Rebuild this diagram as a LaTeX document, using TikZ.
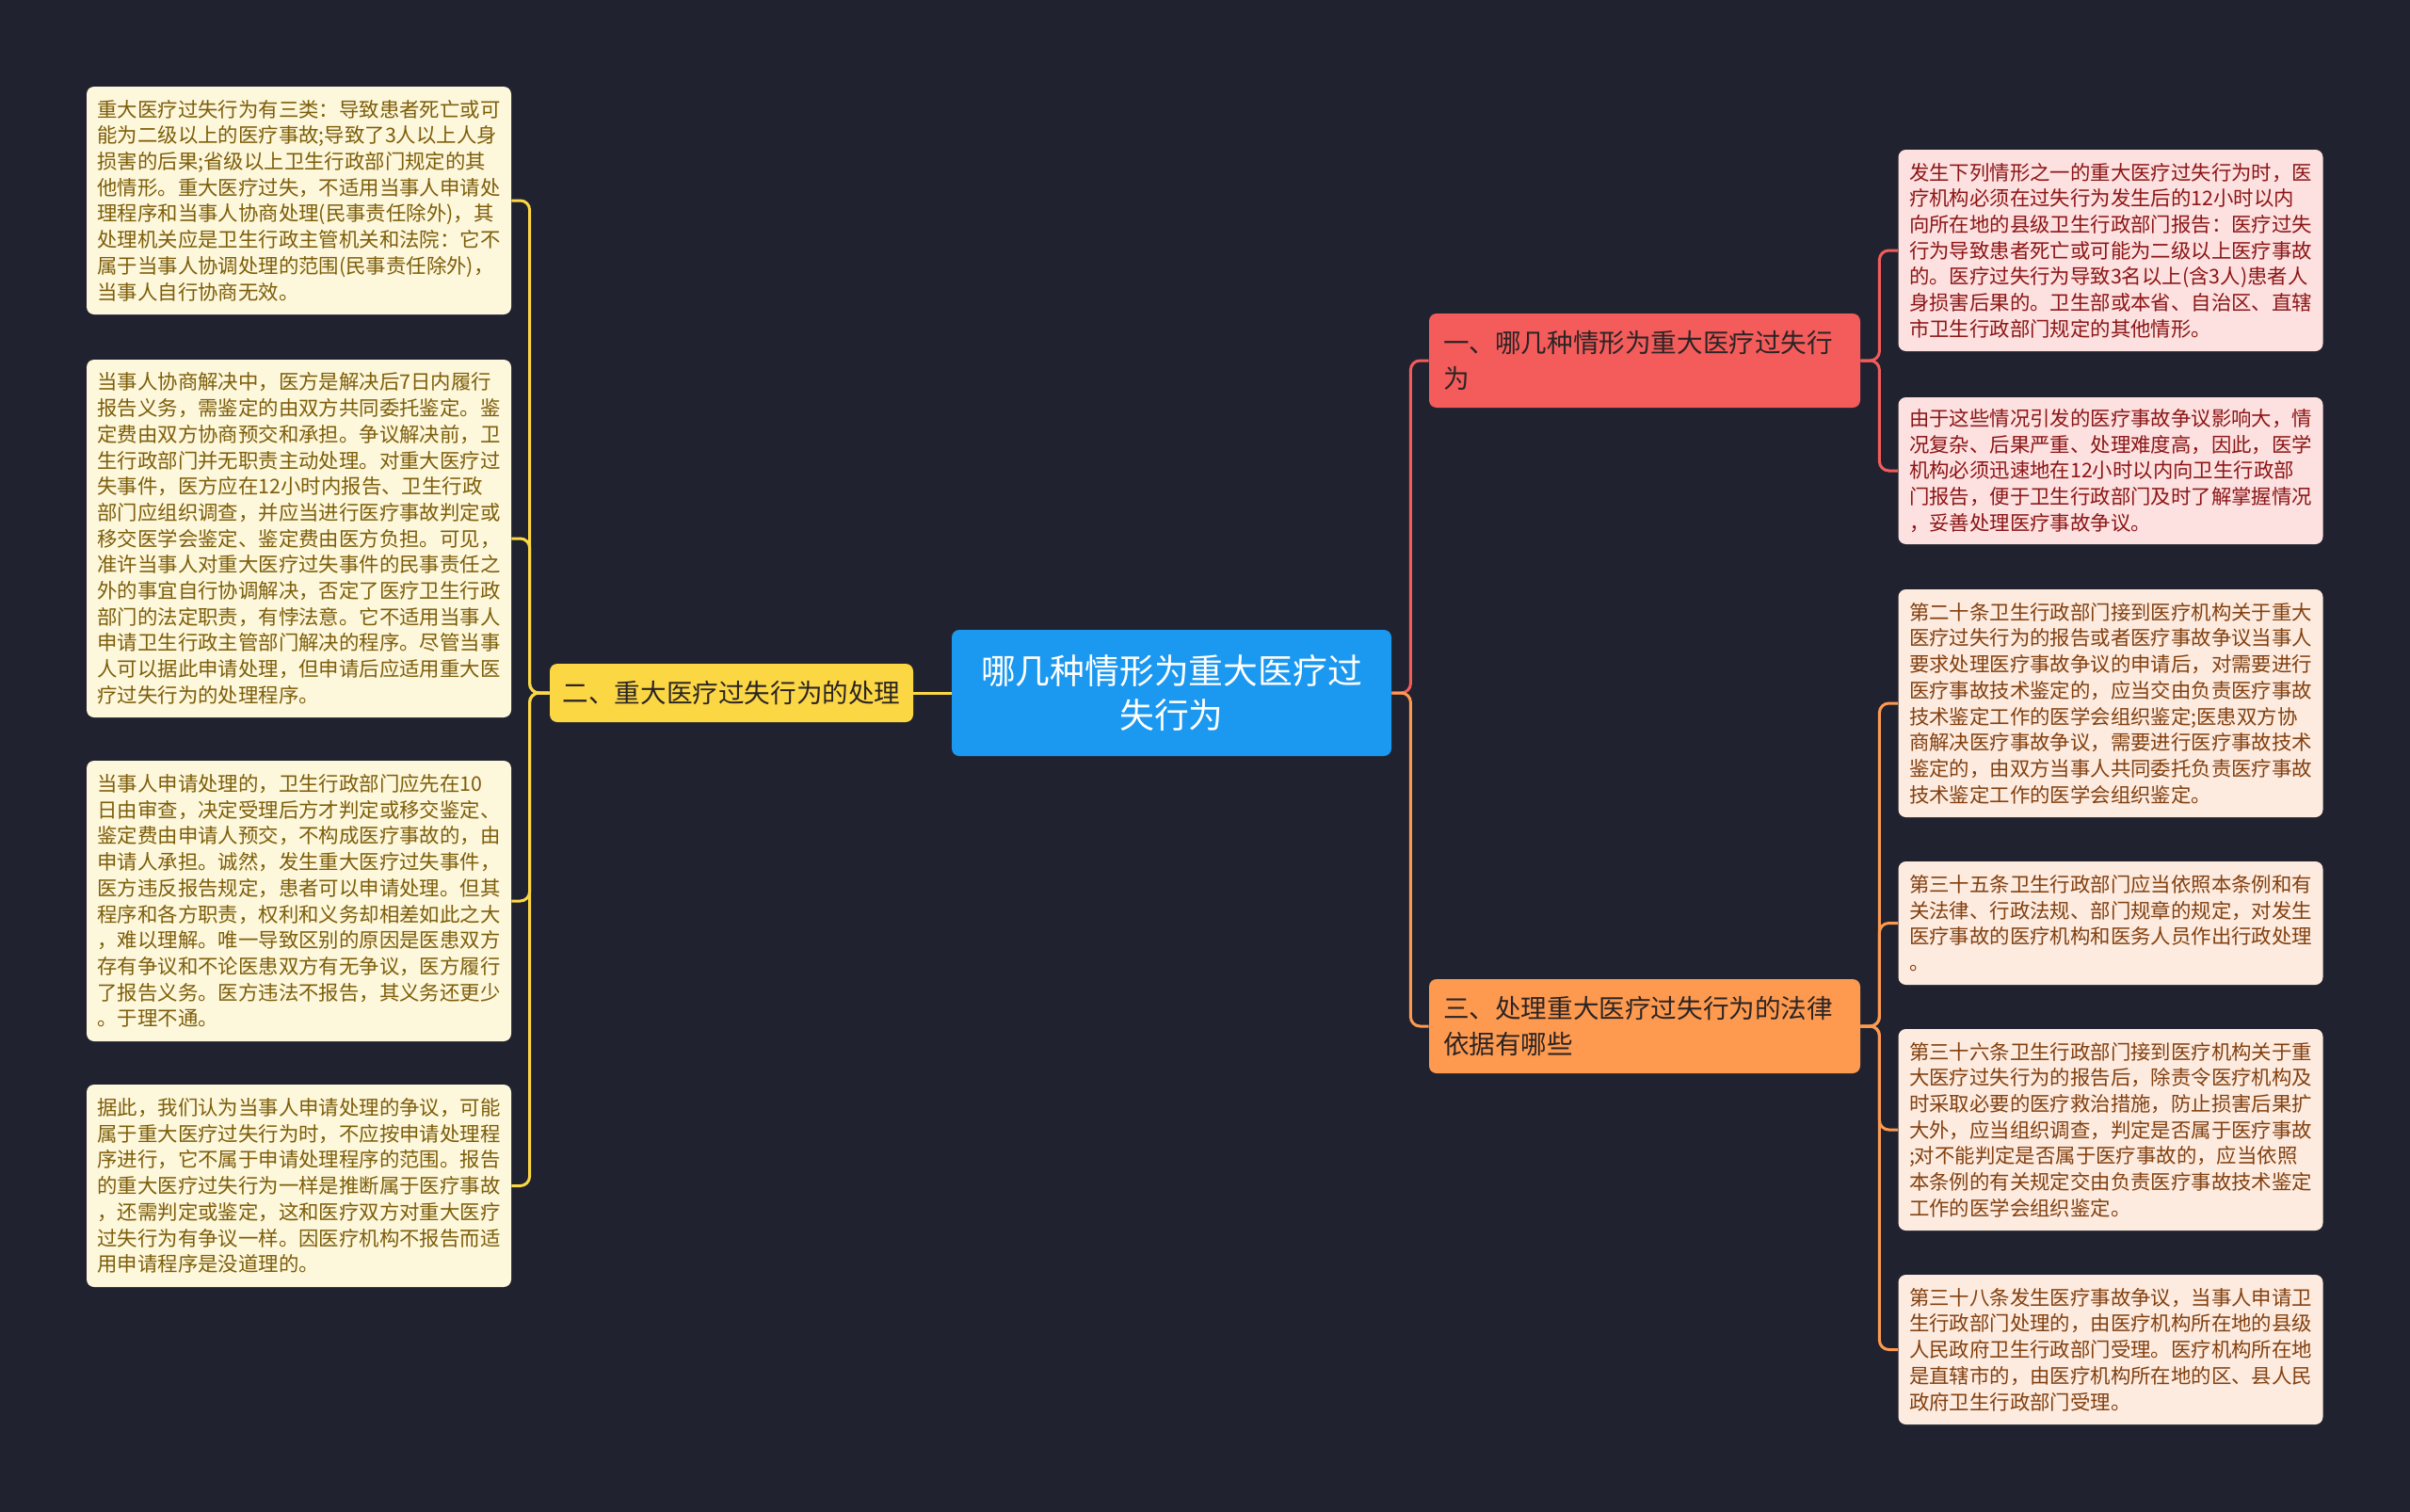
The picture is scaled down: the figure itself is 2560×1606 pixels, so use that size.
\documentclass[tikz,border=0pt]{standalone}
\usepackage{fontspec}
\setmainfont{Noto Sans CJK SC}
\usepackage{tikz}
\usetikzlibrary{positioning,calc}

\definecolor{bgc}{HTML}{20232F}
\definecolor{rootc}{HTML}{1B98F0}
\definecolor{redc}{HTML}{F45B5B}
\definecolor{yelc}{HTML}{FCD744}
\definecolor{orac}{HTML}{FE9A50}
\definecolor{leafy}{HTML}{FDF7DC}
\definecolor{leafytxt}{HTML}{7D5E0A}
\definecolor{leafr}{HTML}{FDE0E0}
\definecolor{leafrtxt}{HTML}{8C1616}
\definecolor{leafo}{HTML}{FDEBE0}
\definecolor{leafotxt}{HTML}{82400F}
\definecolor{btxt}{HTML}{2B2424}

\begin{document}
\begin{tikzpicture}[
    x=0.5pt,y=-0.5pt,
    leaf/.style={rounded corners=4pt,align=left,text width=214pt,inner xsep=5.75pt,inner ysep=2pt,
        font=\fontsize{10.7pt}{13.85pt}\selectfont},
    leafl/.style={leaf,fill=leafy,text=leafytxt},
    leafr/.style={leaf,fill=leafr,text=leafrtxt},
    leafo/.style={leaf,fill=leafo,text=leafotxt},
    branch/.style={rounded corners=4pt,text=btxt,inner ysep=2pt,
        font=\fontsize{13.8pt}{18.8pt}\selectfont},
    link/.style={line width=1.5pt,rounded corners=5pt}
]
\fill[bgc] (0,0) rectangle (2560,1606);
\useasboundingbox (0,0) rectangle (2560,1606);

% centre and main branches
\node[rounded corners=4pt,fill=rootc,text=white,align=center,text width=220pt,
      minimum width=233.5pt,minimum height=67pt,font=\fontsize{18.4pt}{23.5pt}\selectfont]
      (root) at (1244.5,736) {哪几种情形为重大医疗过\\失行为};
\node[branch,fill=yelc,minimum width=193pt,minimum height=31pt] (b2) at (777,736) {二、重大医疗过失行为的处理};
\node[branch,fill=redc,align=left,text width=214pt,inner xsep=7.5pt,minimum height=50pt]
      (b1) at (1747,383) {一、哪几种情形为重大医疗过失行\\为};
\node[branch,fill=orac,align=left,text width=214pt,inner xsep=7.5pt,minimum height=50pt]
      (b3) at (1747,1090) {三、处理重大医疗过失行为的法律\\依据有哪些};

% left leaves
\node[leafl,minimum height=121pt] (l1) at (317.5,213) {重大医疗过失行为有三类：导致患者死亡或可\\能为二级以上的医疗事故;导致了3人以上人身\\损害的后果;省级以上卫生行政部门规定的其\\他情形。重大医疗过失，不适用当事人申请处\\理程序和当事人协商处理(民事责任除外)，其\\处理机关应是卫生行政主管机关和法院：它不\\属于当事人协调处理的范围(民事责任除外)，\\当事人自行协商无效。};
\node[leafl,minimum height=190pt] (l2) at (317.5,572) {当事人协商解决中，医方是解决后7日内履行\\报告义务，需鉴定的由双方共同委托鉴定。鉴\\定费由双方协商预交和承担。争议解决前，卫\\生行政部门并无职责主动处理。对重大医疗过\\失事件，医方应在12小时内报告、卫生行政\\部门应组织调查，并应当进行医疗事故判定或\\移交医学会鉴定、鉴定费由医方负担。可见，\\准许当事人对重大医疗过失事件的民事责任之\\外的事宜自行协调解决，否定了医疗卫生行政\\部门的法定职责，有悖法意。它不适用当事人\\申请卫生行政主管部门解决的程序。尽管当事\\人可以据此申请处理，但申请后应适用重大医\\疗过失行为的处理程序。};
\node[leafl,minimum height=149pt] (l3) at (317.5,957) {当事人申请处理的，卫生行政部门应先在10\\日由审查，决定受理后方才判定或移交鉴定、\\鉴定费由申请人预交，不构成医疗事故的，由\\申请人承担。诚然，发生重大医疗过失事件，\\医方违反报告规定，患者可以申请处理。但其\\程序和各方职责，权利和义务却相差如此之大\\，难以理解。唯一导致区别的原因是医患双方\\存有争议和不论医患双方有无争议，医方履行\\了报告义务。医方违法不报告，其义务还更少\\。于理不通。};
\node[leafl,minimum height=107.5pt] (l4) at (317.5,1259.5) {据此，我们认为当事人申请处理的争议，可能\\属于重大医疗过失行为时，不应按申请处理程\\序进行，它不属于申请处理程序的范围。报告\\的重大医疗过失行为一样是推断属于医疗事故\\，还需判定或鉴定，这和医疗双方对重大医疗\\过失行为有争议一样。因医疗机构不报告而适\\用申请程序是没道理的。};

% right leaves
\node[leafr,minimum height=107pt] (r1) at (2242,266) {发生下列情形之一的重大医疗过失行为时，医\\疗机构必须在过失行为发生后的12小时以内\\向所在地的县级卫生行政部门报告：医疗过失\\行为导致患者死亡或可能为二级以上医疗事故\\的。医疗过失行为导致3名以上(含3人)患者人\\身损害后果的。卫生部或本省、自治区、直辖\\市卫生行政部门规定的其他情形。};
\node[leafr,minimum height=78pt] (r2) at (2242,500) {由于这些情况引发的医疗事故争议影响大，情\\况复杂、后果严重、处理难度高，因此，医学\\机构必须迅速地在12小时以内向卫生行政部\\门报告，便于卫生行政部门及时了解掌握情况\\，妥善处理医疗事故争议。};
\node[leafo,minimum height=121pt] (r3) at (2242,747) {第二十条卫生行政部门接到医疗机构关于重大\\医疗过失行为的报告或者医疗事故争议当事人\\要求处理医疗事故争议的申请后，对需要进行\\医疗事故技术鉴定的，应当交由负责医疗事故\\技术鉴定工作的医学会组织鉴定;医患双方协\\商解决医疗事故争议，需要进行医疗事故技术\\鉴定的，由双方当事人共同委托负责医疗事故\\技术鉴定工作的医学会组织鉴定。};
\node[leafo,minimum height=65.5pt] (r4) at (2242,980.5) {第三十五条卫生行政部门应当依照本条例和有\\关法律、行政法规、部门规章的规定，对发生\\医疗事故的医疗机构和医务人员作出行政处理\\。};
\node[leafo,minimum height=107pt] (r5) at (2242,1200) {第三十六条卫生行政部门接到医疗机构关于重\\大医疗过失行为的报告后，除责令医疗机构及\\时采取必要的医疗救治措施，防止损害后果扩\\大外，应当组织调查，判定是否属于医疗事故\\;对不能判定是否属于医疗事故的，应当依照\\本条例的有关规定交由负责医疗事故技术鉴定\\工作的医学会组织鉴定。};
\node[leafo,minimum height=79.5pt] (r6) at (2242,1433.5) {第三十八条发生医疗事故争议，当事人申请卫\\生行政部门处理的，由医疗机构所在地的县级\\人民政府卫生行政部门受理。医疗机构所在地\\是直辖市的，由医疗机构所在地的区、县人民\\政府卫生行政部门受理。};

% connectors
\draw[link,yelc] (root.west) -- (b2.east);
\draw[link,redc] (root.east) -- ++(20,0) |- (b1.west);
\draw[link,orac] (root.east) -- ++(20,0) |- (b3.west);
\foreach \n in {l1,l2,l3,l4}
  \draw[link,yelc] (b2.west) -- ++(-21,0) |- (\n.east);
\foreach \n in {r1,r2}
  \draw[link,redc] (b1.east) -- ++(20,0) |- (\n.west);
\foreach \n in {r3,r4,r5,r6}
  \draw[link,orac] (b3.east) -- ++(20,0) |- (\n.west);
\end{tikzpicture}
\end{document}
